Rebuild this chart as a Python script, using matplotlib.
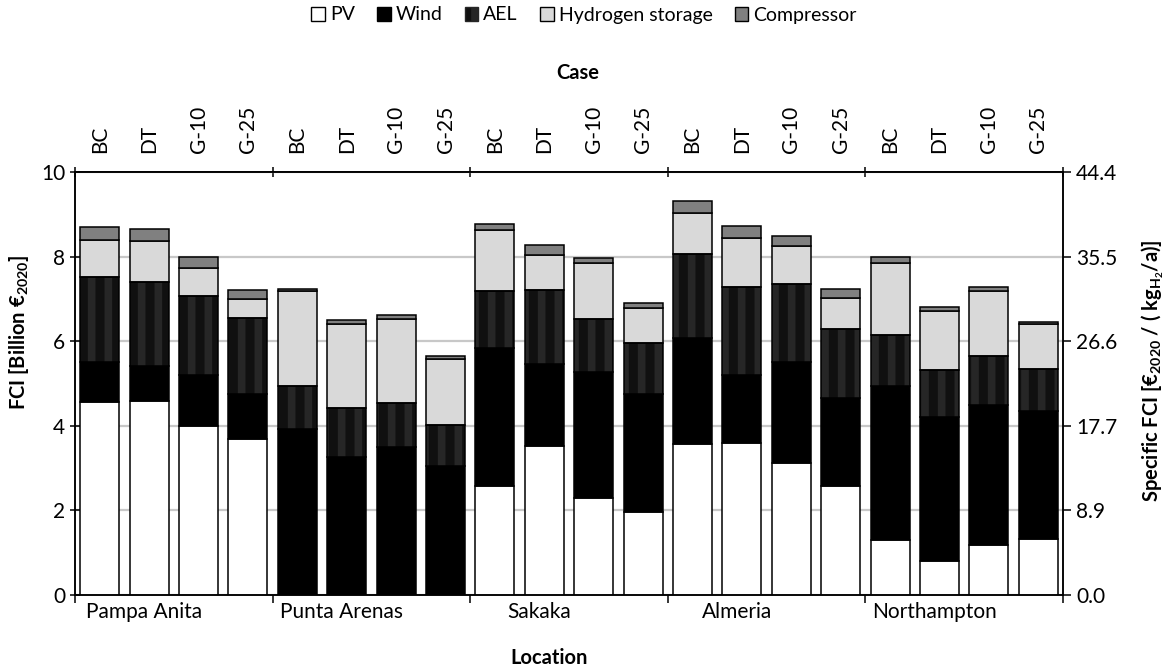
import matplotlib
matplotlib.use("Agg")
import matplotlib.pyplot as plt
from matplotlib.patches import Patch
import numpy as np

plt.rcParams['font.family'] = ['Lato', 'DejaVu Sans']
plt.rcParams['mathtext.fontset'] = 'custom'
plt.rcParams['mathtext.rm'] = 'Lato'
plt.rcParams['mathtext.bf'] = 'Lato:bold'
plt.rcParams['hatch.linewidth'] = 5.5

locations = ["Pampa Anita", "Punta Arenas", "Sakaka", "Almeria", "Northampton"]
cases = ["BC", "DT", "G-10", "G-25"]

pv = [4.56, 4.59, 4.00, 3.69, 0, 0, 0, 0, 2.57, 3.53, 2.30, 1.97,
      3.57, 3.59, 3.12, 2.57, 1.30, 0.81, 1.18, 1.32]
wind = [0.94, 0.82, 1.19, 1.07, 3.93, 3.27, 3.51, 3.06, 3.28, 1.94, 2.97, 2.79,
        2.51, 1.61, 2.40, 2.09, 3.64, 3.40, 3.32, 3.02]
ael = [2.02, 1.99, 1.88, 1.80, 1.02, 1.14, 1.02, 0.97, 1.33, 1.73, 1.26, 1.20,
       1.99, 2.08, 1.84, 1.64, 1.21, 1.12, 1.16, 1.01]
h2 = [0.88, 0.98, 0.65, 0.43, 2.24, 1.99, 1.99, 1.55, 1.45, 0.84, 1.33, 0.83,
      0.97, 1.16, 0.88, 0.71, 1.71, 1.38, 1.53, 1.05]
comp = [0.30, 0.27, 0.26, 0.22, 0.05, 0.09, 0.09, 0.08, 0.15, 0.23, 0.11, 0.12,
        0.28, 0.29, 0.24, 0.22, 0.12, 0.10, 0.09, 0.06]

right_ticks = ["0.0", "8.9", "17.7", "26.6", "35.5", "44.4"]

fig = plt.figure(figsize=(11.68, 6.69), dpi=100)
ax = fig.add_axes([75/1168, 1-595/669, (1063-75)/1168, (595-172)/669])

n = len(pv)
x = np.arange(n)
w = 0.79
elw = 1.1

bottom = np.zeros(n)
ax.bar(x, pv, w, bottom=bottom, color='white', edgecolor='black', linewidth=elw, zorder=3)
bottom += pv
ax.bar(x, wind, w, bottom=bottom, color='black', edgecolor='black', linewidth=elw, zorder=3)
bottom += wind
ax.bar(x, ael, w, bottom=bottom, color='#101010', edgecolor='#262626', linewidth=0,
       hatch='|', zorder=3)
ax.bar(x, ael, w, bottom=bottom, fill=False, edgecolor='black', linewidth=elw, zorder=4)
bottom += ael
ax.bar(x, h2, w, bottom=bottom, color='#d9d9d9', edgecolor='black', linewidth=elw, zorder=3)
bottom += h2
ax.bar(x, comp, w, bottom=bottom, color='#808080', edgecolor='black', linewidth=elw, zorder=3)

ax.set_xlim(-0.5, n - 0.5)
ax.set_ylim(0, 10)
ax.set_yticks([0, 2, 4, 6, 8, 10])
ax.yaxis.grid(True, color='#c8c8c8', linewidth=1.6, zorder=0)
ax.set_axisbelow(True)

fs = 15
lfs = 14.5
group_centers = [i * 4 + 1.5 for i in range(len(locations))]
label_pos = [c - 0.6 for c in group_centers]
boundaries = [i * 4 - 0.5 for i in range(len(locations) + 1)]
ax.set_xticks(label_pos)
ax.set_xticklabels(locations, fontsize=fs)
ax.set_xticks(boundaries, minor=True)
ax.tick_params(axis='x', which='major', length=0, pad=5)
ax.tick_params(axis='x', which='minor', length=6, width=1.1, direction='out')
ax.tick_params(axis='y', labelsize=fs, length=7, width=1.1, direction='inout')
ax.set_xlabel("Location", fontsize=lfs, fontweight='bold')
ax.xaxis.set_label_coords(0.48, -0.125)
ax.set_ylabel(r"FCI [Billion €$_{\mathbf{2020}}$]", fontsize=lfs, fontweight='bold')
ax.yaxis.set_label_coords(-0.045, 0.62)

for s in ax.spines.values():
    s.set_linewidth(1.1)

sec = ax.secondary_xaxis('top')
sec.set_xticks(x)
sec.set_xticklabels([c for _ in locations for c in cases], rotation=90, fontsize=fs)
sec.set_xticks(boundaries, minor=True)
sec.tick_params(axis='x', which='major', length=0, pad=14)
sec.tick_params(axis='x', which='minor', length=7, width=1.1, direction='inout')
sec.spines['top'].set_linewidth(1.1)
fig.text(578/1168, 1 - 73/669, "Case", fontsize=lfs, fontweight='bold',
         ha='center', va='center')

ax2 = ax.twinx()
ax2.set_ylim(0, 10)
ax2.set_yticks([0, 2, 4, 6, 8, 10])
ax2.set_yticklabels(right_ticks, fontsize=fs)
ax2.tick_params(axis='y', length=6, width=1.1, direction='out')
for s in ax2.spines.values():
    s.set_linewidth(1.1)
ax2.set_ylabel(r"Specific FCI [€$_{\mathbf{2020}}$ / ( kg$_{\mathbf{H}_{\mathbf{2}}}$/a)]",
               fontsize=lfs, fontweight='bold')
ax2.yaxis.set_label_coords(1.077, 0.53)

handles = [
    Patch(facecolor='white', edgecolor='black', linewidth=1.0, label='PV'),
    Patch(facecolor='black', edgecolor='black', linewidth=1.0, label='Wind'),
    Patch(facecolor='#101010', edgecolor='#262626', linewidth=1.0, hatch='|', label='AEL'),
    Patch(facecolor='#d9d9d9', edgecolor='black', linewidth=1.0, label='Hydrogen storage'),
    Patch(facecolor='#808080', edgecolor='black', linewidth=1.0, label='Compressor'),
]
fig.legend(handles=handles, loc='center', bbox_to_anchor=(0.5, 1 - 15/669), ncol=5,
           frameon=False, fontsize=14, handlelength=0.7, handleheight=0.7,
           handletextpad=0.25, columnspacing=1.15)

fig.savefig("out.png", dpi=100)
